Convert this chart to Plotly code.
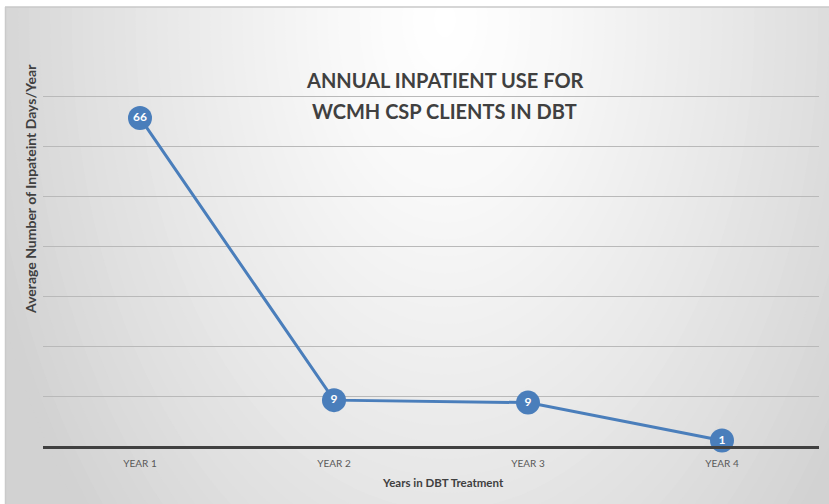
import plotly.graph_objects as go

categories = ["YEAR 1", "YEAR 2", "YEAR 3", "YEAR 4"]
avg_days = [65.8, 9.2, 8.7, 1.1]
grid_vals = [10, 20, 30, 40, 50, 60, 70]
title_lines = ["ANNUAL INPATIENT USE FOR", "WCMH CSP CLIENTS IN DBT"]

W, H = 829, 504
def px(x):
    return x / W
def py(y):
    return 1 - y / H

FONT = "Lato, Open Sans, sans-serif"
BLUE = "#4a7ebb"

shapes = []
shapes.append(dict(type="rect", xref="paper", yref="paper", x0=px(5), x1=1.2, y0=-0.2, y1=py(7),
                   fillcolor="#d2d2d2", line=dict(width=0), layer="below"))
N = 45
cx, cy = 445, 20
RX, RY = 480, 760
for i in range(N, 0, -1):
    t = i / N
    v = int(round(255 - (255 - 210) * t ** 1.3))
    col = f"rgb({v},{v},{v})"
    shapes.append(dict(type="circle", xref="paper", yref="paper",
                       x0=px(cx - RX * t), x1=px(cx + RX * t),
                       y0=py(cy + RY * t), y1=py(cy - RY * t),
                       fillcolor=col, line=dict(width=0), layer="below"))
shapes.append(dict(type="rect", xref="paper", yref="paper", x0=-0.1, x1=px(5), y0=-0.1, y1=1.1,
                   fillcolor="white", line=dict(width=0), layer="below"))
shapes.append(dict(type="rect", xref="paper", yref="paper", x0=-0.1, x1=1.1, y0=py(7), y1=1.1,
                   fillcolor="white", line=dict(width=0), layer="below"))
shapes.append(dict(type="line", xref="paper", yref="paper", x0=px(5), x1=1, y0=py(7), y1=py(7),
                   line=dict(color="#c8c8c8", width=1.5), layer="below"))
shapes.append(dict(type="line", xref="paper", yref="paper", x0=px(5.5), x1=px(5.5), y0=0, y1=py(7),
                   line=dict(color="#cacaca", width=1.5), layer="below"))

fig = go.Figure()
fig.add_trace(go.Scatter(
    x=categories, y=avg_days, mode="lines+markers+text",
    line=dict(color=BLUE, width=3),
    marker=dict(size=24, color=BLUE, line=dict(width=0)),
    texttemplate="<b>%{y:.0f}</b>", textposition="middle center",
    textfont=dict(family=FONT, size=12, color="white"),
    cliponaxis=False, hoverinfo="x+y", showlegend=False,
))

annotations = []
for line_text, ypix in zip(title_lines, [80, 111]):
    annotations.append(dict(text=f"<b>{line_text}</b>", xref="paper", yref="paper",
                            x=px(445), y=py(ypix), xanchor="center", yanchor="middle",
                            showarrow=False, font=dict(family=FONT, size=20, color="#404040")))
annotations += [
    dict(text="<b>Years in DBT Treatment</b>", xref="paper", yref="paper",
         x=px(443), y=py(482), xanchor="center", yanchor="middle", showarrow=False,
         font=dict(family=FONT, size=11.5, color="#404040")),
    dict(text="<b>Average Number of Inpateint Days/Year</b>", xref="paper", yref="paper",
         x=px(30), y=py(189), xanchor="center", yanchor="middle", showarrow=False,
         textangle=-90, font=dict(family=FONT, size=14, color="#404040")),
]

fig.update_layout(
    width=W, height=H, template="none",
    margin=dict(l=0, r=0, t=0, b=0),
    paper_bgcolor="white", plot_bgcolor="rgba(0,0,0,0)",
    shapes=shapes,
    xaxis=dict(domain=[px(43), px(819)], range=[-0.5, 3.5], type="category",
               showline=True, linecolor="#404040", linewidth=2.5, showgrid=False,
               zeroline=False, ticks="", automargin=False, ticklabelstandoff=6,
               tickfont=dict(family=FONT, size=10, color="#595959")),
    yaxis=dict(domain=[py(446), py(20)], range=[0, 426 / 4.986],
               tickvals=grid_vals, showticklabels=False, showgrid=True,
               gridcolor="#b9b9b9", gridwidth=1, zeroline=False, showline=False,
               ticks="", automargin=False),
    annotations=annotations,
)

fig.write_html("out.html", config={"displayModeBar": False},
               post_script="document.body.style.margin='0';document.body.style.overflow='hidden';")
